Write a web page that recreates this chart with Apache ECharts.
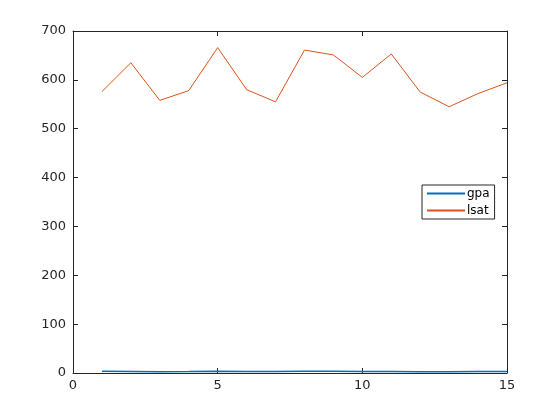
<!DOCTYPE html>
<html><head><meta charset="utf-8">
<script src="https://cdn.jsdelivr.net/npm/echarts@6/dist/echarts.min.js"></script>
<style>html,body{margin:0;padding:0;background:#fff}#c{width:560px;height:420px}</style>
</head><body><div id="c"></div>
<script>
const xValues = [1,2,3,4,5,6,7,8,9,10,11,12,13,14,15];
const gpa = [3.39,3.30,2.81,3.03,3.44,3.07,3.00,3.43,3.36,3.13,3.12,2.74,2.76,2.88,2.96];
const lsat = [576,635,558,578,666,580,555,661,651,605,653,575,545,572,594];
const seriesNames = ['gpa','lsat'];

const chart = echarts.init(document.getElementById('c'));
const axisCol = '#262626';
const font = 'DejaVu Sans';
function xa(pos, show){
  return {type:'value', min:0, max:15, interval:5, position:pos,
    axisLine:{show:true, onZero:false, lineStyle:{color:axisCol, width:1}},
    axisTick:{show:true, inside:true, length:5, lineStyle:{color:axisCol}},
    axisLabel:{show:show, color:axisCol, fontFamily:font, fontSize:13, margin:6},
    splitLine:{show:false}};
}
function ya(pos, show){
  return {type:'value', min:0, max:700, interval:100, position:pos,
    axisLine:{show:true, onZero:false, lineStyle:{color:axisCol, width:1}},
    axisTick:{show:true, inside:true, length:5, lineStyle:{color:axisCol}},
    axisLabel:{show:show, color:axisCol, fontFamily:font, fontSize:13, margin:7},
    splitLine:{show:false}};
}
chart.setOption({
  animation:false,
  grid:{left:73, right:53, top:31, bottom:47},
  xAxis:[xa('bottom', true), xa('top', false)],
  yAxis:[ya('left', true), ya('right', false)],
  legend:{orient:'vertical', left:422, top:185, itemWidth:38, itemHeight:2, itemGap:4,
    icon:'rect', borderColor:axisCol, borderWidth:1, borderRadius:0, padding:[2,5,2,5],
    backgroundColor:'#fff',
    textStyle:{fontFamily:font, fontSize:12, lineHeight:13, color:'#000', padding:[0,0,0,-3]},
    data:seriesNames},
  series:[
    {name:seriesNames[0], type:'line', data:xValues.map((x,i)=>[x,gpa[i]]), showSymbol:false, symbol:'none',
      lineStyle:{color:'#0072BD', width:1.5}, itemStyle:{color:'#0072BD'}},
    {name:seriesNames[1], type:'line', data:xValues.map((x,i)=>[x,lsat[i]]), showSymbol:false, symbol:'none',
      lineStyle:{color:'#D95319', width:1}, itemStyle:{color:'#D95319'}}
  ]
});
</script></body></html>
